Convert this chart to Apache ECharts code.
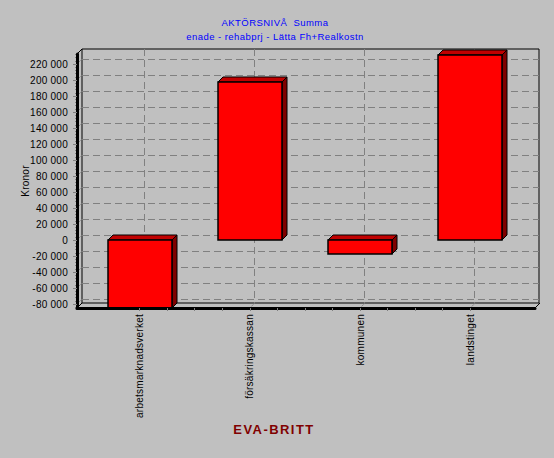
<!DOCTYPE html>
<html><head><meta charset="utf-8">
<style>
html,body{margin:0;padding:0;background:#c0c0c0}
#c{width:554px;height:458px}
text{letter-spacing:.25px}
text[fill="#0000ff"],text[style*="#0000ff"],text[style*="rgb(0, 0, 255)"]{letter-spacing:.45px}
text[fill="#800000"],text[style*="#800000"],text[style*="rgb(128, 0, 0)"]{letter-spacing:1.45px}
</style>
<script src="https://cdn.jsdelivr.net/npm/echarts@6/dist/echarts.min.js"></script>
</head><body><div id="c"></div>
<script>
const categories=['arbetsmarknadsverket','försäkringskassan','kommunen','landstinget'];
const barValues=[-85000,197500,-17500,231000];
const yTicks=[-80000,-60000,-40000,-20000,0,20000,40000,60000,80000,100000,120000,140000,160000,180000,200000,220000];
const yMinorTicks=[-84000,-76000,-72000,-68000,-64000,-56000,-52000,-48000,-44000,-36000,-32000,-28000,-24000,-16000,-12000,-8000,-4000,4000,8000,12000,16000,24000,28000,32000,36000,44000,48000,52000,56000,64000,68000,72000,76000,84000,88000,92000,96000,104000,108000,112000,116000,124000,128000,132000,136000,144000,148000,152000,156000,164000,168000,172000,176000,184000,188000,192000,196000,204000,208000,212000,216000,224000,228000,232000];
const xTicks=[0,1,2,3];
const xMinorTicks=[0,.25,.5,.75,1,1.25,1.5,1.75,2,2.25,2.5,2.75,3];
const yMin=-85000,yMax=232500,xMin=-0.568,xMax=3.587,depth=5,halfBar=32;
const fmt=v=>String(Math.abs(v)).replace(/\B(?=(\d{3})+$)/g,' ').replace(/^/,v<0?'-':'');
const font='"Liberation Sans"';
const chart=echarts.init(document.getElementById('c'),null,{renderer:'svg'});
const hide={axisLine:{show:false,onZero:false},axisTick:{show:false},axisLabel:{show:false},splitLine:{show:false}};
const dash={show:true,lineStyle:{color:'#808080',type:[7,4],width:1}};
chart.setOption({
 animation:false,backgroundColor:'#c0c0c0',
 title:[
  {text:'AKTÖRSNIVÅ  Summa',left:275,top:17,padding:0,textAlign:'center',textStyle:{color:'#0000ff',fontFamily:font,fontSize:9.5,fontWeight:'normal'}},
  {text:'enade - rehabprj - Lätta Fh+Realkostn',left:275,top:31,padding:0,textAlign:'center',textStyle:{color:'#0000ff',fontFamily:font,fontSize:9.5,fontWeight:'normal'}},
  {text:'EVA-BRITT',left:274,top:423,padding:0,textAlign:'center',textStyle:{color:'#800000',fontFamily:font,fontSize:13,fontWeight:'bold'}}
 ],
 grid:[
  {left:77,top:54,width:458,height:254},
  {left:82,top:49,width:457,height:254,show:true,borderColor:'#000',borderWidth:1,backgroundColor:'transparent'}
 ],
 xAxis:[
  {gridIndex:0,type:'value',min:xMin,max:xMax,z:5,splitLine:{show:false},
   axisLine:{show:true,onZero:false,lineStyle:{color:'#000',width:3}},
   axisTick:{show:true,length:3,customValues:xMinorTicks,lineStyle:{color:'#808080'}},
   axisLabel:{customValues:xTicks,rotate:90,margin:6,fontFamily:font,fontSize:10,color:'#000',formatter:v=>categories[v]}},
  {gridIndex:1,type:'value',min:xMin,max:xMax,...hide,axisTick:{show:false,customValues:xTicks},splitLine:dash}
 ],
 yAxis:[
  {gridIndex:0,type:'value',min:yMin,max:yMax,z:5,splitLine:{show:false},name:'Kronor',nameLocation:'middle',nameGap:47,nameMoveOverlap:false,
   nameTextStyle:{fontFamily:font,fontSize:10,color:'#000'},
   axisLine:{show:true,onZero:false,lineStyle:{color:'#000',width:3}},
   axisTick:{show:true,length:4,customValues:yTicks,lineStyle:{color:'#808080'}},
   axisLabel:{customValues:yTicks,margin:9,fontFamily:font,fontSize:10,color:'#000',formatter:fmt}},
  {gridIndex:1,type:'value',min:yMin,max:yMax,...hide,axisTick:{show:false,customValues:yTicks},splitLine:dash},
  {gridIndex:0,type:'value',min:yMin,max:yMax,position:'left',...hide,axisTick:{show:true,length:2,customValues:yMinorTicks,lineStyle:{color:'#808080'}}}
 ],
 series:[
  {type:'custom',name:'depth',xAxisIndex:0,yAxisIndex:0,z:1,clip:false,silent:true,
   data:[...yTicks.map(v=>[xMin,v,'g']),...xTicks.map(v=>[v,yMin,'g']),[xMin,yMax,'k'],[xMin,yMin,'k'],[xMax,yMin,'k']],
   renderItem(p,api){const c=api.coord([api.value(0),api.value(1)]);
    const k=p.dataIndex>=yTicks.length+xTicks.length;
    return {type:'line',shape:{x1:c[0],y1:c[1],x2:c[0]+depth,y2:c[1]-depth},style:{stroke:k?'#000':'#808080',lineWidth:1,lineDash:k?null:[2,1]}};}},
  {type:'custom',name:'Summa',xAxisIndex:0,yAxisIndex:0,z:2,clip:false,
   data:barValues.map((v,i)=>[i,v]),
   renderItem(p,api){
    const x=api.coord([api.value(0),0])[0],y0=api.coord([0,0])[1],y1=api.coord([0,api.value(1)])[1];
    const l=Math.round(x-halfBar),r=Math.round(x+halfBar),t=Math.round(Math.min(y0,y1)),b=Math.round(Math.max(y0,y1));
    const s=(f)=>({fill:f,stroke:'#000',lineWidth:1});
    return {type:'group',children:[
     {type:'polygon',shape:{points:[[l,t],[l+depth,t-depth],[r+depth,t-depth],[r,t]]},style:s('#c00000')},
     {type:'polygon',shape:{points:[[r,t],[r+depth,t-depth],[r+depth,b-depth],[r,b]]},style:s('#800000')},
     {type:'rect',shape:{x:l,y:t,width:r-l,height:b-t},style:{...s('#ff0000'),lineWidth:1.5}}
    ]};}}
 ]
});
</script></body></html>
